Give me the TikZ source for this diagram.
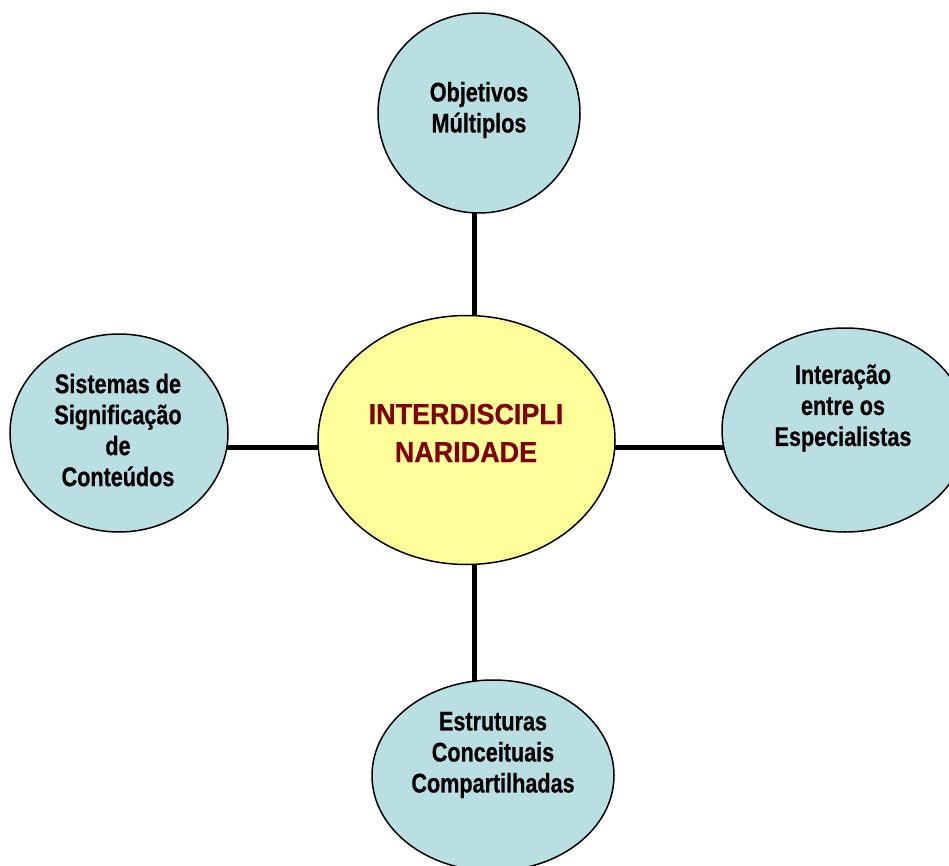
\documentclass[tikz,border=0pt]{standalone}
\usepackage{fontspec}
\usetikzlibrary{shapes.geometric,backgrounds}
\newfontfamily\bubblefont[FakeStretch=0.8, FakeBold=0.6]{Liberation Sans}
\newfontfamily\hubfont[FakeStretch=0.93, FakeBold=0.6]{Liberation Sans}
\definecolor{bubbleblue}{HTML}{BADFE3}
\definecolor{hubyellow}{HTML}{FFFF99}
\definecolor{hubred}{HTML}{800000}
\tikzset{
  bubble/.style={ellipse, draw=black, line width=1.5pt, fill=bubbleblue, inner sep=0pt},
  hubshape/.style={ellipse, draw=black, line width=1.5pt, fill=hubyellow, inner sep=0pt},
  bubbletext/.style={align=center, inner sep=0pt, font=\bubblefont\bfseries\fontsize{27}{31}\selectfont},
  hubtext/.style={align=center, inner sep=0pt, text=hubred, font=\hubfont\bfseries\fontsize{29}{38}\selectfont},
  spoke/.style={line width=5pt, draw=black}
}
\begin{document}
\begin{tikzpicture}[x=1pt, y=-1pt]
  \useasboundingbox (0,0) rectangle (949,866);
  \clip (0,0) rectangle (949,866);

  % ellipses
  \node[hubshape, minimum width=297pt, minimum height=249pt] (hub) at (466.5,440) {};
  \node[bubble, minimum width=202pt, minimum height=200pt] (top) at (479,113) {};
  \node[bubble, minimum width=218pt, minimum height=198pt] (left) at (119,433) {};
  \node[bubble, minimum width=246pt, minimum height=204pt] (right) at (845,430) {};
  \node[bubble, minimum width=242pt, minimum height=191pt] (bottom) at (493,775.5) {};

  % spokes, drawn behind the ellipses
  \coordinate (axis) at (474,447);
  \begin{scope}[on background layer]
    \draw[spoke] (axis |- top.center) -- (axis |- bottom.center);
    \draw[spoke] (axis -| left.center) -- (axis -| right.center);
  \end{scope}

  % labels
  \node[hubtext] (hublabel) at (466,433) {INTERDISCIPLI\\NARIDADE};
  \node[bubbletext] (toplabel) at (479,110) {Objetivos\\Múltiplos};
  \node[bubbletext] (leftlabel) at (118,430) {Sistemas de\\Significação\\de\\Conteúdos};
  \node[bubbletext] (rightlabel) at (843,408) {Interação\\entre os\\Especialistas};
  \node[bubbletext] (bottomlabel) at (493,755) {Estruturas\\Conceituais\\Compartilhadas};
\end{tikzpicture}
\end{document}
